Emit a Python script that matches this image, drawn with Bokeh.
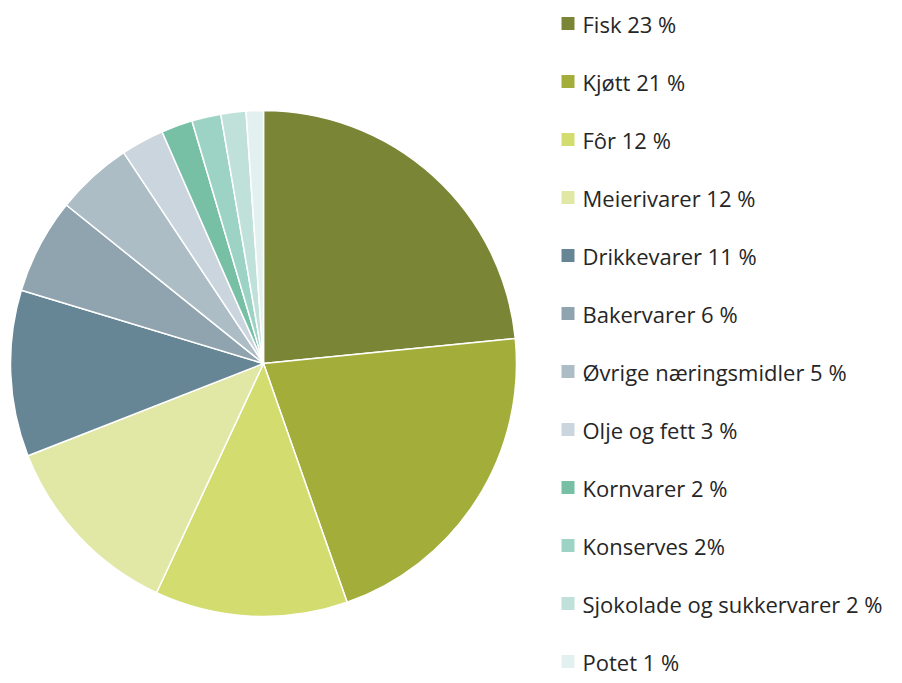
import numpy as np
from bokeh.plotting import figure
from bokeh.models import Range1d, ColumnDataSource
from bokeh.core.properties import value
from bokeh.embed import file_html
from bokeh.resources import INLINE

categories = ["Fisk 23 %", "Kjøtt 21 %", "Fôr 12 %", "Meierivarer 12 %", "Drikkevarer 11 %",
              "Bakervarer 6 %", "Øvrige næringsmidler 5 %", "Olje og fett 3 %", "Kornvarer 2 %",
              "Konserves 2%", "Sjokolade og sukkervarer 2 %", "Potet 1 %"]
shares = [23.4, 21.2, 12.3, 12.1, 10.6, 6.1, 4.9, 2.75, 2.0, 1.86, 1.6, 1.1]
colors = ["#7A8535", "#A3AE3A", "#D3DC6E", "#E1E8A6", "#668595", "#8FA4AF",
          "#ADBDC6", "#CAD5DD", "#77C0A6", "#9DD3C4", "#BFE1D9", "#E2F1EF"]

W, H = 894, 675
p = figure(width=W, height=H, output_backend="svg", toolbar_location=None,
           x_range=Range1d(0, W), y_range=Range1d(-H, 0),
           min_border=0, outline_line_color=None)
p.axis.visible = False
p.grid.visible = False

vals = np.array(shares, dtype=float)
frac = vals / vals.sum()
cum = np.concatenate([[0], np.cumsum(frac)])
start = np.pi / 2 - 2 * np.pi * cum[1:]
end = np.pi / 2 - 2 * np.pi * cum[:-1]

src = ColumnDataSource(dict(start=start, end=end, color=colors))
p.wedge(x=263, y=-363, radius=253, start_angle="start", end_angle="end",
        fill_color="color", line_color="white", line_width=1.5, source=src)

n = len(categories)
ly = [-(23 + i * 58.0) for i in range(n)]
lsrc = ColumnDataSource(dict(y=ly, label=categories, color=colors))
p.rect(x=567.5, y="y", width=13, height=13, fill_color="color", line_color=None, source=lsrc)
p.text(x=582, y="y", text="label", text_font=value("Open Sans"), text_font_size="22px",
       text_color="#262626", text_baseline="middle", source=lsrc)

open("out.html", "w").write(file_html(p, INLINE))
